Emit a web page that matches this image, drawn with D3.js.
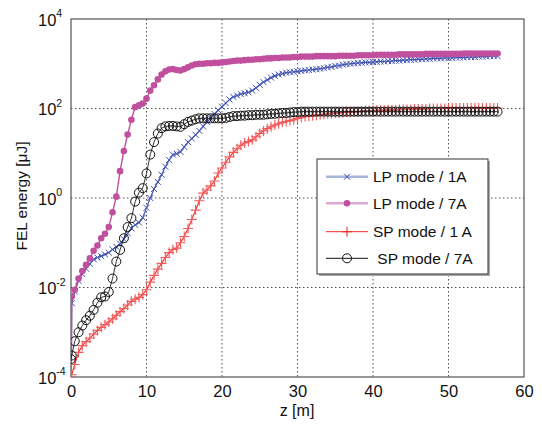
<!DOCTYPE html>
<html>
<head>
<meta charset="utf-8">
<script src="https://cdn.jsdelivr.net/npm/d3@7"></script>
<style>
  body { margin: 0; background: #fff; }
  svg { display: block; font-family: "Liberation Sans", Arial, sans-serif; }
</style>
</head>
<body>
<div id="chart"></div>
<script>
// z positions [m]; values below are log10 of FEL energy in uJ
const zPos = [0, 0.1, 0.5, 1, 1.5, 2, 2.5, 3, 3.5, 4,
  4.5, 5, 5.5, 6, 6.5, 7, 7.5, 8, 8.5, 9,
  9.5, 10, 10.5, 11, 11.5, 12, 12.5, 13, 13.5, 14,
  14.5, 15, 15.5, 16, 16.5, 17, 17.5, 18, 18.5, 19,
  19.5, 20, 20.5, 21, 21.5, 22, 22.5, 23, 23.5, 24,
  24.5, 25, 25.5, 26, 26.5, 27, 27.5, 28, 28.5, 29,
  29.5, 30, 30.5, 31, 31.5, 32, 32.5, 33, 33.5, 34,
  34.5, 35, 35.5, 36, 36.5, 37, 37.5, 38, 38.5, 39,
  39.5, 40, 40.5, 41, 41.5, 42, 42.5, 43, 43.5, 44,
  44.5, 45, 45.5, 46, 46.5, 47, 47.5, 48, 48.5, 49,
  49.5, 50, 50.5, 51, 51.5, 52, 52.5, 53, 53.5, 54,
  54.5, 55, 55.5, 56, 56.5];

const lp1 = [-5, -2.35, -2.09, -1.85, -1.7, -1.58, -1.47, -1.37, -1.33, -1.3,
  -1.26, -1.22, -1.15, -1.09, -1.02, -0.92, -0.79, -0.68, -0.6, -0.55,
  -0.44, -0.22, 0.0, 0.2, 0.36, 0.52, 0.7, 0.85, 0.97, 0.99,
  1.03, 1.14, 1.25, 1.33, 1.41, 1.5, 1.6, 1.7, 1.78, 1.88,
  1.96, 2.04, 2.12, 2.2, 2.26, 2.29, 2.32, 2.34, 2.36, 2.4,
  2.46, 2.53, 2.59, 2.64, 2.69, 2.73, 2.76, 2.78, 2.8, 2.81,
  2.82, 2.83, 2.84, 2.85, 2.86, 2.87, 2.88, 2.89, 2.9, 2.92,
  2.93, 2.95, 2.96, 2.98, 2.99, 3.0, 3.01, 3.02, 3.02, 3.03,
  3.03, 3.04, 3.04, 3.05, 3.05, 3.06, 3.06, 3.07, 3.07, 3.08,
  3.08, 3.09, 3.09, 3.1, 3.1, 3.11, 3.11, 3.12, 3.12, 3.12,
  3.13, 3.13, 3.13, 3.14, 3.14, 3.14, 3.15, 3.15, 3.15, 3.16,
  3.16, 3.16, 3.17, 3.17, 3.17];

const lp7 = [-5, -2.2, -2.05, -1.8, -1.63, -1.49, -1.35, -1.18, -1.06, -0.9,
  -0.8, -0.65, -0.32, 0.03, 0.6, 1.05, 1.42, 1.75, 2.03, 2.07,
  2.11, 2.22, 2.4, 2.52, 2.65, 2.76, 2.83, 2.87, 2.88, 2.86,
  2.85, 2.88, 2.92, 2.96, 2.99, 3.0, 3.0, 3.01, 3.01, 3.02,
  3.02, 3.03, 3.04, 3.05, 3.06, 3.07, 3.07, 3.08, 3.09, 3.09,
  3.1, 3.1, 3.11, 3.12, 3.12, 3.13, 3.13, 3.14, 3.14, 3.14,
  3.15, 3.15, 3.16, 3.16, 3.16, 3.16, 3.17, 3.17, 3.17, 3.17,
  3.17, 3.17, 3.18, 3.18, 3.18, 3.18, 3.18, 3.19, 3.19, 3.19,
  3.19, 3.19, 3.2, 3.2, 3.2, 3.2, 3.2, 3.2, 3.21, 3.21,
  3.21, 3.21, 3.21, 3.21, 3.21, 3.22, 3.22, 3.22, 3.22, 3.22,
  3.22, 3.22, 3.22, 3.22, 3.22, 3.23, 3.23, 3.23, 3.23, 3.23,
  3.23, 3.23, 3.23, 3.23, 3.23];

const sp1 = [-4.0, -3.95, -3.72, -3.45, -3.3, -3.21, -3.13, -3.04, -2.96, -2.89,
  -2.83, -2.77, -2.7, -2.62, -2.54, -2.47, -2.39, -2.31, -2.26, -2.22,
  -2.16, -2.05, -1.88, -1.73, -1.59, -1.46, -1.33, -1.22, -1.15, -1.12,
  -1.0, -0.86, -0.68, -0.48, -0.27, -0.06, 0.11, 0.18, 0.27, 0.38,
  0.56, 0.67, 0.8, 0.92, 1.02, 1.1, 1.18, 1.23, 1.26, 1.3,
  1.37, 1.44, 1.5, 1.55, 1.59, 1.63, 1.66, 1.69, 1.71, 1.73,
  1.75, 1.78, 1.8, 1.82, 1.83, 1.84, 1.85, 1.86, 1.87, 1.88,
  1.89, 1.9, 1.9, 1.91, 1.92, 1.92, 1.93, 1.93, 1.94, 1.95,
  1.95, 1.95, 1.96, 1.96, 1.96, 1.97, 1.97, 1.97, 1.98, 1.98,
  1.98, 1.98, 1.99, 1.99, 1.99, 1.99, 2.0, 2.0, 2.0, 2.0,
  2.0, 2.0, 2.01, 2.01, 2.01, 2.01, 2.01, 2.01, 2.01, 2.01,
  2.01, 2.01, 2.01, 2.01, 2.01];

const sp7 = [-3.6, -3.52, -3.2, -3.0, -2.85, -2.73, -2.63, -2.5, -2.34, -2.22,
  -2.2, -2.1, -1.8, -1.42, -1.16, -0.9, -0.65, -0.45, -0.08, 0.12,
  0.22, 0.55, 0.97, 1.25, 1.44, 1.56, 1.6, 1.61, 1.61, 1.6,
  1.59, 1.65, 1.7, 1.73, 1.76, 1.78, 1.78, 1.78, 1.78, 1.78,
  1.78, 1.78, 1.79, 1.81, 1.83, 1.83, 1.84, 1.84, 1.85, 1.85,
  1.86, 1.86, 1.86, 1.87, 1.88, 1.88, 1.89, 1.9, 1.9, 1.91,
  1.92, 1.92, 1.93, 1.93, 1.93, 1.93, 1.93, 1.93, 1.93, 1.93,
  1.93, 1.93, 1.93, 1.93, 1.93, 1.93, 1.93, 1.93, 1.93, 1.93,
  1.93, 1.93, 1.93, 1.93, 1.93, 1.93, 1.93, 1.93, 1.93, 1.93,
  1.93, 1.93, 1.93, 1.93, 1.93, 1.93, 1.93, 1.93, 1.93, 1.93,
  1.93, 1.93, 1.93, 1.93, 1.93, 1.93, 1.93, 1.93, 1.93, 1.93,
  1.93, 1.93, 1.93, 1.93, 1.93];

const xTicks = [0, 10, 20, 30, 40, 50, 60];
const yTickExps = [-4, -2, 0, 2, 4];
const seriesNames = ["LP mode / 1A", "LP mode / 7A", "SP mode / 1 A", " SP mode / 7A"];

const width = 542, height = 424;
const mLeft = 71, mRight = 524, mTop = 19, mBottom = 377;

const svg = d3.select("#chart").append("svg").attr("width", width).attr("height", height);
svg.append("rect").attr("width", width).attr("height", height).attr("fill", "#fff");

const x = d3.scaleLinear().domain([0, 60]).range([mLeft, mRight]);
const y = d3.scaleLog().domain([1e-4, 1e4]).range([mBottom, mTop]);

svg.append("clipPath").attr("id", "plotclip")
  .append("rect").attr("x", mLeft).attr("y", mTop).attr("width", mRight - mLeft).attr("height", mBottom - mTop);

// grid
const grid = svg.append("g").attr("stroke", "#222").attr("stroke-width", 0.8).attr("stroke-dasharray", "1.5,2.5");
xTicks.slice(1, -1).forEach(t => {
  grid.append("line").attr("x1", x(t)).attr("x2", x(t)).attr("y1", mTop).attr("y2", mBottom);
});
yTickExps.slice(1, -1).forEach(e => {
  grid.append("line").attr("x1", mLeft).attr("x2", mRight).attr("y1", y(Math.pow(10, e))).attr("y2", y(Math.pow(10, e)));
});

// axes
const xAxis = svg.append("g").attr("transform", `translate(0,${mBottom})`)
  .call(d3.axisBottom(x).tickValues(xTicks).tickSize(0).tickPadding(8));
xAxis.select(".domain").remove();
xAxis.selectAll("text").attr("font-size", 16.5).attr("fill", "#111")
  .attr("font-family", "Liberation Sans, Arial, sans-serif");

const yAxis = svg.append("g").attr("transform", `translate(${mLeft},0)`)
  .call(d3.axisLeft(y).tickValues(yTickExps.map(e => Math.pow(10, e))).tickSize(0).tickFormat(""));
yAxis.select(".domain").remove();
yAxis.selectAll(".tick text").each(function(d) {
  const t = d3.select(this);
  t.attr("text-anchor", "start").attr("x", -33).attr("dy", 6)
    .attr("font-size", 16.5).attr("fill", "#111")
    .attr("font-family", "Liberation Sans, Arial, sans-serif");
  t.text("10");
  t.append("tspan").attr("dy", -8.5).attr("font-size", 10.5).text(Math.round(Math.log10(d)));
});

// box
svg.append("rect").attr("x", mLeft).attr("y", mTop).attr("width", mRight - mLeft).attr("height", mBottom - mTop)
  .attr("fill", "none").attr("stroke", "#444").attr("stroke-width", 1.1);

// labels
svg.append("text").attr("x", 297).attr("y", 416).attr("text-anchor", "middle")
  .attr("font-size", 16).attr("fill", "#111").text("z [m]");
svg.append("text").attr("transform", "translate(26.5,196) rotate(-90)").attr("text-anchor", "middle")
  .attr("font-size", 15.5).attr("fill", "#111").text("FEL energy [\u03bcJ]");

// marker shapes
function crossPath(s) { return `M${-s},${-s}L${s},${s}M${-s},${s}L${s},${-s}`; }
function plusPath(s) { return `M${-s},0L${s},0M0,${-s}L0,${s}`; }

const series = [
  { vals: lp1, line: "#3f51b3", lw: 1.2, kind: "x", mk: "#3f51b3" },
  { vals: lp7, line: "#c0509e", lw: 1.4, kind: "dot", mk: "#c0509e" },
  { vals: sp1, line: "#ee2a2a", lw: 1.1, kind: "plus", mk: "#f25a5a" },
  { vals: sp7, line: "#000", lw: 0.8, kind: "circle", mk: "#111" }
];

const plot = svg.append("g").attr("clip-path", "url(#plotclip)");
const line = d3.line().x((d, i) => x(zPos[i])).y(d => y(Math.pow(10, d)));

function drawMarker(g, kind, color) {
  if (kind === "x") {
    g.append("path").attr("d", crossPath(3)).attr("stroke", color).attr("stroke-width", 1).attr("fill", "none");
  } else if (kind === "dot") {
    g.append("circle").attr("r", 3.3).attr("fill", color);
  } else if (kind === "plus") {
    g.append("path").attr("d", plusPath(5)).attr("stroke", color).attr("stroke-width", 1.1).attr("fill", "none");
  } else {
    g.append("circle").attr("r", 4.5).attr("fill", "none").attr("stroke", color).attr("stroke-width", 1);
  }
}

series.forEach(s => {
  plot.append("path").datum(s.vals).attr("d", line)
    .attr("fill", "none").attr("stroke", s.line).attr("stroke-width", s.lw);
  const mg = plot.append("g");
  s.vals.forEach((v, i) => {
    const g = mg.append("g").attr("transform", `translate(${x(zPos[i])},${y(Math.pow(10, v))})`);
    drawMarker(g, s.kind, s.mk);
  });
});

// legend
const lx = 317, ly = 159, lw = 171, lh = 115;
svg.append("rect").attr("x", lx + 2).attr("y", ly + 2).attr("width", lw).attr("height", lh).attr("fill", "#aaa");
svg.append("rect").attr("x", lx).attr("y", ly).attr("width", lw).attr("height", lh)
  .attr("fill", "#fff").attr("stroke", "#333").attr("stroke-width", 1);
const legLine = ["#a9b3dc", "#dcaad2", "#ee2a2a", "#111"];
const legLw = [2.5, 2.5, 1, 1];
const rowY = [176.7, 203.3, 231.7, 258.3];
seriesNames.forEach((name, i) => {
  svg.append("line").attr("x1", 326).attr("x2", 368).attr("y1", rowY[i]).attr("y2", rowY[i])
    .attr("stroke", legLine[i]).attr("stroke-width", legLw[i]);
  const g = svg.append("g").attr("transform", `translate(347,${rowY[i]})`);
  drawMarker(g, series[i].kind, series[i].kind === "plus" ? "#ee2a2a" : series[i].mk);
  svg.append("text").attr("x", 373).attr("y", rowY[i] + 5.6)
    .attr("font-size", 15.5).attr("fill", "#111").style("white-space", "pre").text(name);
});
</script>
</body>
</html>
